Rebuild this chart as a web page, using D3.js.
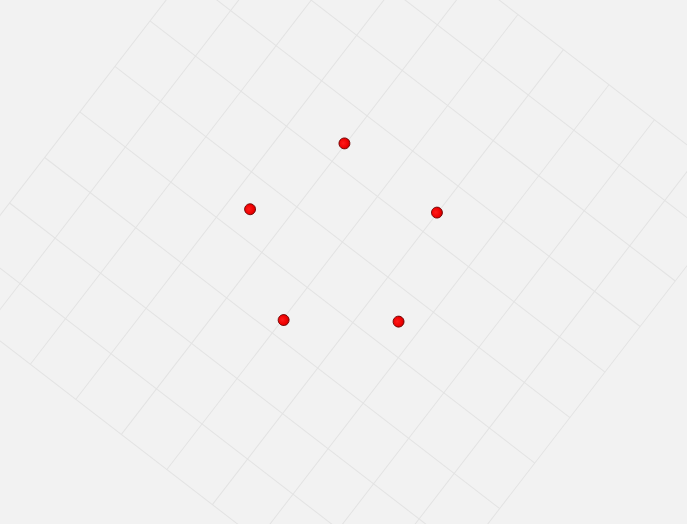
<!DOCTYPE html>
<html>
<head>
<meta charset="utf-8">
<script src="https://cdn.jsdelivr.net/npm/d3@7"></script>
<style>
  html, body { margin: 0; padding: 0; background: #f2f2f2; }
  svg { display: block; }
</style>
</head>
<body>
<div id="chart"></div>
<script>
// Data (grid units)
const gridTicks = [-5, -4, -3, -2, -1, 0, 1, 2, 3, 4, 5];
const pointX = [1.38, -0.53, 1.41, -1.70, -0.50];
const pointY = [1.02, 1.62, -0.99, -0.02, -1.62];

const W = 687, H = 524;
const cell = 57.47;
const half = cell * 5;

const svg = d3.select("#chart").append("svg")
  .attr("width", W).attr("height", H);

svg.append("rect").attr("width", W).attr("height", H).attr("fill", "#f2f2f2");

const x = d3.scaleLinear().domain([-5, 5]).range([-half, half]);
const y = d3.scaleLinear().domain([-5, 5]).range([half, -half]);

const g = svg.append("g")
  .attr("transform", "translate(342.4,242) rotate(-52.35)");

const gridColor = "#e3e3e3";
g.append("g").selectAll("line.v").data(gridTicks).join("line")
  .attr("x1", d => x(d)).attr("x2", d => x(d))
  .attr("y1", y(-5)).attr("y2", y(5))
  .attr("stroke", gridColor).attr("stroke-width", 1);
g.append("g").selectAll("line.h").data(gridTicks).join("line")
  .attr("y1", d => y(d)).attr("y2", d => y(d))
  .attr("x1", x(-5)).attr("x2", x(5))
  .attr("stroke", gridColor).attr("stroke-width", 1);

const defs = svg.append("defs");
const grad = defs.append("radialGradient").attr("id", "ball")
  .attr("cx", "45%").attr("cy", "40%").attr("r", "60%");
grad.append("stop").attr("offset", "0%").attr("stop-color", "#ff1a1a");
grad.append("stop").attr("offset", "70%").attr("stop-color", "#ee0000");
grad.append("stop").attr("offset", "100%").attr("stop-color", "#c40000");

const pts = pointX.map((v, i) => ({x: v, y: pointY[i]}));
g.append("g").selectAll("circle").data(pts).join("circle")
  .attr("cx", d => x(d.x)).attr("cy", d => y(d.y))
  .attr("r", 5.5)
  .attr("fill", "url(#ball)")
  .attr("stroke", "#6a0000").attr("stroke-width", 0.8);
</script>
</body>
</html>
